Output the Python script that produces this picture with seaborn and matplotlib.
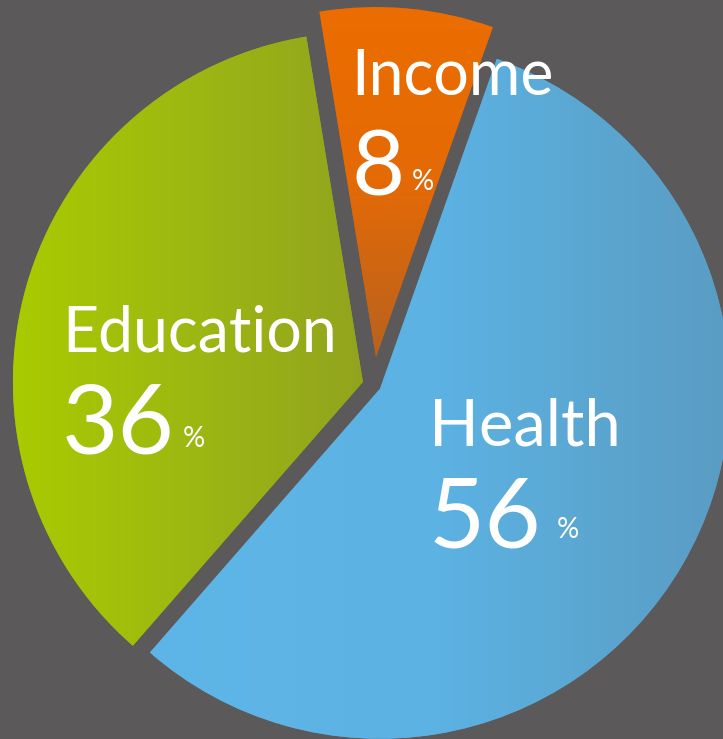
import matplotlib
matplotlib.use("Agg")
import matplotlib.pyplot as plt
from matplotlib.colors import LinearSegmentedColormap
import seaborn as sns
import numpy as np

# data
labels = ["Income", "Education", "Health"]
shares = [8, 36, 56]
# offsets of each slice from the centre (data units = pixels here)
explode = [28, 11, 7.5]
# gradient colours per slice and direction
grad_colors = [["#ec6d00", "#e46a06", "#b8621f"],
               ["#a9cb00", "#9db812", "#92a41e"],
               ["#5eb6e8", "#5cb2e2", "#5a9cc3"]]
grad_dirs = ["v", "h", "h"]

W, H = 723, 739
BG = "#5b595a"

sns.set_theme(style="dark", rc={"figure.facecolor": BG, "axes.facecolor": BG})
plt.rcParams["font.family"] = ["Lato", "DejaVu Sans"]

fig = plt.figure(figsize=(W / 100, H / 100), dpi=100)
ax = fig.add_axes([0, 0, 1, 1])

wedges, _ = ax.pie(shares, explode=explode, startangle=70.5, radius=350,
                   center=(373.5, H - 385), colors=[c[-1] for c in grad_colors],
                   wedgeprops=dict(linewidth=0))
ax.set_xlim(0, W)
ax.set_ylim(0, H)
ax.set_aspect("equal")
ax.axis("off")

# gradient fill clipped to each wedge
for w, cols, d in zip(wedges, grad_colors, grad_dirs):
    bb = w.get_path().get_extents(w.get_transform() - ax.transData)
    cmap = LinearSegmentedColormap.from_list("g", cols)
    g = np.linspace(0, 1, 256)
    arr = g.reshape(-1, 1) if d == "v" else g.reshape(1, -1)
    im = ax.imshow(arr, cmap=cmap, extent=(bb.x0, bb.x1, bb.y0, bb.y1),
                   origin="upper", aspect="auto", zorder=w.get_zorder() + 0.1)
    im.set_clip_path(w)
ax.set_xlim(0, W)
ax.set_ylim(0, H)

# labels: (name x, name baseline, name size, number x, number baseline, pct x, pct baseline, number size)
txt = [
    (351, 95, 45, 351, 196, 412, 190, 66),
    (62, 352, 45, 62, 453, 183, 447, 70),
    (429, 445, 47, 429, 547, 557, 538, 70),
]
for lab, v, (nx, ny, ns, vx, vy, px, py, fs) in zip(labels, shares, txt):
    ax.text(nx, H - ny, lab, color="white", fontsize=ns, ha="left", va="baseline", zorder=5)
    ax.text(vx, H - vy, f"{v}", color="white", fontsize=fs, ha="left", va="baseline", zorder=5)
    ax.text(px, H - py, "%", color="white", fontsize=20,
            ha="left", va="baseline", zorder=5)

fig.savefig("out.png", dpi=100, facecolor=BG)
